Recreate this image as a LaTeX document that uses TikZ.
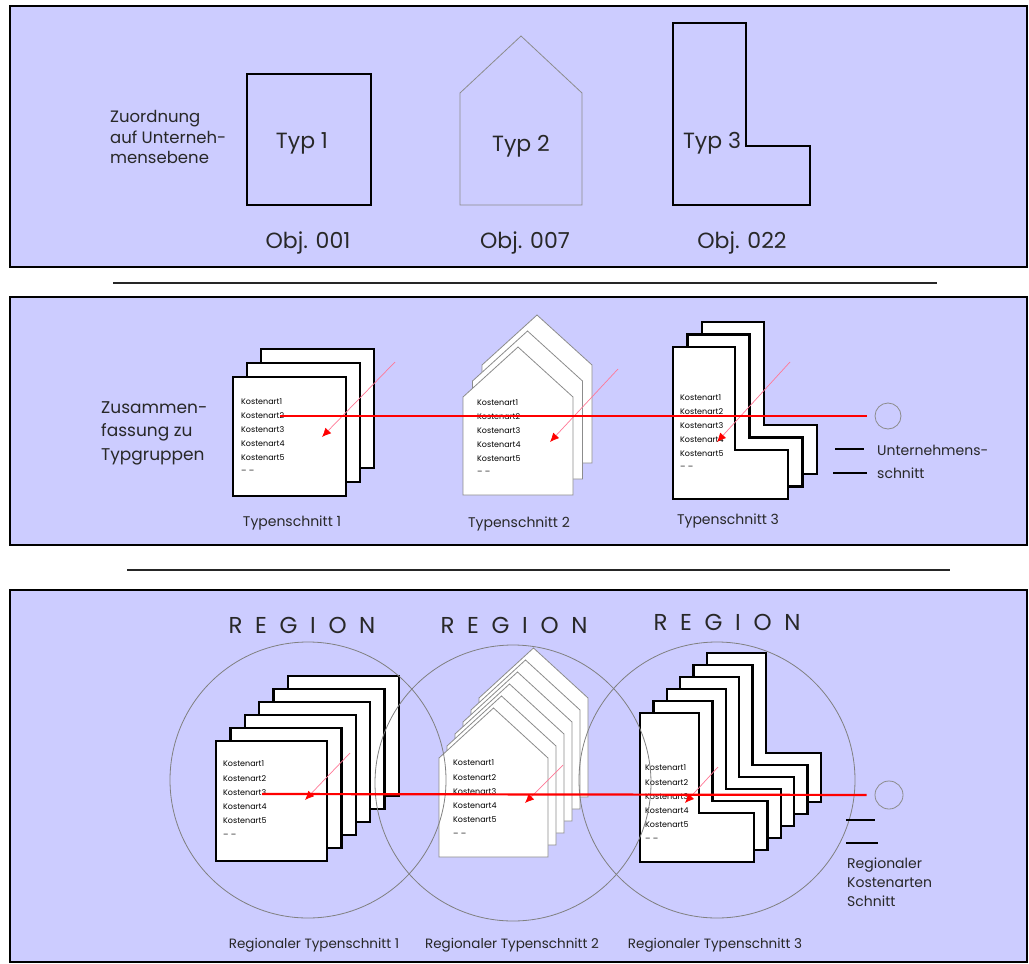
\documentclass[tikz,border=0pt]{standalone}
\usepackage{xcolor}
\usepackage{fontspec}
\setmainfont{Poppins}
\newfontfamily\regfont[LetterSpace=55]{Poppins}
\usetikzlibrary{arrows.meta}
\definecolor{lav}{RGB}{204,204,255}
\definecolor{txt}{RGB}{40,40,40}
\definecolor{pinkl}{RGB}{255,120,150}
\newcommand\myfs[2]{\fontsize{#1}{#2}\selectfont}
\newcommand\pagelines{Kostenart1\\Kostenart2\\Kostenart3\\Kostenart4\\Kostenart5\\-- --}
\begin{document}
\begin{tikzpicture}[x=1pt,y=-1pt,
  panel/.style={draw=black,line width=2pt,fill=lav},
  sepline/.style={line width=2.5pt,draw=black!85},
  pagebox/.style={draw=black,line width=2.3pt,fill=white,line join=miter},
  housebox/.style={draw=black!45,line width=0.8pt,fill=white},
  ptext/.style={font=\myfs{8}{13.8},align=left,anchor=north west,inner sep=0pt,text=black},
  lbl/.style={text=txt,inner sep=0pt},
  redline/.style={draw=red,line width=2.2pt,shorten >=8pt},
  pinkarrow/.style={draw=pinkl,line width=0.7pt,-{Latex[length=9pt,width=8pt,color=red]}},
  ring/.style={circle,draw=black!45,line width=0.8pt,inner sep=0pt},
  regcircle/.style={draw=black!50,line width=0.8pt},
  legline/.style={draw=black,line width=2pt}
]
\useasboundingbox (0,0) rectangle (1029,964);
\fill[white] (0,0) rectangle (1029,964);

% ---------------- panel 1 ----------------
\draw[panel] (10,6) rectangle (1027,267);
\node[lbl,anchor=west,align=left,font=\myfs{16.5}{20.5}] (zuord) at (110,137) {Zuordnung\\auf Unterneh-\\mensebene};
\draw[line width=2.5pt] (247,74) rectangle (371,205);
\draw[draw=black!45,line width=0.8pt] (460,205) -- (460,93) -- (521,36) -- (582,93) -- (582,205) -- cycle;
\draw[line width=2.5pt] (673,23) -- (746,23) -- (746,146) -- (810,146) -- (810,205) -- (673,205) -- cycle;
\node[lbl,font=\myfs{22}{22}] (t1) at (302,143) {Typ 1};
\node[lbl,font=\myfs{22}{22}] (t2) at (521,146) {Typ 2};
\node[lbl,font=\myfs{22}{22}] (t3) at (712,143) {Typ 3};
\node[lbl,font=\myfs{22}{22}] (o1) at (308,243) {Obj. 001};
\node[lbl,font=\myfs{22}{22}] (o2) at (525,243) {Obj. 007};
\node[lbl,font=\myfs{22}{22}] (o3) at (742,243) {Obj. 022};

\draw[sepline] (113,283) -- (937,283);

% ---------------- panel 2 ----------------
\draw[panel] (10,297) rectangle (1027,545);
\node[lbl,anchor=west,align=left,font=\myfs{17}{23.5}] (zus) at (101,433) {Zusammen-\\fassung zu\\Typgruppen};
% stack 1
\foreach \i in {2,1,0} \draw[pagebox] ({233+14*\i},{377-14*\i}) rectangle +(113,119);
\node[ptext] (p21) at (241,399) {\pagelines};
% stack 2
\foreach \i in {2,1,0} \draw[housebox] ({463+9.5*\i},{495-16*\i}) -- ++(0,-98) -- ++(55,-50) -- ++(55,50) -- ++(0,98) -- cycle;
\node[ptext] (p22) at (477,400) {\pagelines};
% stack 3
\foreach \i in {2,1,0} \draw[pagebox] ({673+14.5*\i},{347-12.5*\i}) -- ++(62,0) -- ++(0,103) -- ++(53,0) -- ++(0,49) -- ++(-115,0) -- cycle;
\node[ptext] (p23) at (680,395) {\pagelines};

\coordinate (a1s) at (395,362); \coordinate (a1e) at (322,437);
\coordinate (a2s) at (618,369); \coordinate (a2e) at (550,442);
\coordinate (a3s) at (790,362); \coordinate (a3e) at (717,442);
\draw[pinkarrow] (a1s) -- (a1e);
\draw[pinkarrow] (a2s) -- (a2e);
\draw[pinkarrow] (a3s) -- (a3e);

\coordinate (r2s) at (280,416);
\node[ring,minimum size=26pt] (c2) at (888,416) {};
\draw[redline] (r2s) -- (c2);

\draw[legline] (835,449) -- (864,449);
\draw[legline] (833,473) -- (867,473);
\node[lbl,anchor=west,font=\myfs{14}{14}] (u1) at (877,450) {Unternehmens-};
\node[lbl,anchor=west,font=\myfs{14}{14}] (u2) at (877,473) {schnitt};

\node[lbl,font=\myfs{14}{14}] (ts1) at (292,523) {Typenschnitt 1};
\node[lbl,font=\myfs{14}{14}] (ts2) at (519,524) {Typenschnitt 2};
\node[lbl,font=\myfs{14}{14}] (ts3) at (728,521) {Typenschnitt 3};

\draw[sepline] (127,570) -- (950,570);

% ---------------- panel 3 ----------------
\draw[panel] (10,590) rectangle (1027,962);
\node[lbl,font=\regfont\myfs{23}{23}] (reg1) at (302,625) {REGION};
\node[lbl,font=\regfont\myfs{23}{23}] (reg2) at (514,625) {REGION};
\node[lbl,font=\regfont\myfs{23}{23}] (reg3) at (727,622) {REGION};

% stack 1
\foreach \i in {5,4,3,2,1,0} \draw[pagebox] ({216+14.4*\i},{741-13*\i}) rectangle +(111,120);
\node[ptext,font=\myfs{8}{14.2}] (p31) at (223,761) {\pagelines};
% stack 2
\foreach \i in {5,4,3,2,1,0} \draw[housebox] ({439+8*\i},{857-12*\i}) -- ++(0,-99) -- ++(54.5,-50) -- ++(54.5,50) -- ++(0,99) -- cycle;
\node[ptext,font=\myfs{8}{14.2}] (p32) at (453,760) {\pagelines};
% stack 3
\foreach \i in {5,4,3,2,1,0} \draw[pagebox] ({640+13.4*\i},{713-12*\i}) -- ++(59,0) -- ++(0,100) -- ++(55,0) -- ++(0,49) -- ++(-114,0) -- cycle;
\node[ptext,font=\myfs{8}{14.2}] (p33) at (645,765) {\pagelines};

% region circles
\draw[regcircle] (308,780) circle (138);
\draw[regcircle] (513,783) circle (138);
\draw[regcircle] (717,780) circle (138);

\coordinate (b1s) at (350,753); \coordinate (b1e) at (305,800);
\coordinate (b2s) at (563,765); \coordinate (b2e) at (525,803);
\coordinate (b3s) at (718,767); \coordinate (b3e) at (685,803);
\draw[pinkarrow] (b1s) -- (b1e);
\draw[pinkarrow] (b2s) -- (b2e);
\draw[pinkarrow] (b3s) -- (b3e);

\coordinate (r3s) at (262,794);
\node[ring,minimum size=28pt] (c3) at (889,795) {};
\draw[redline] (r3s) -- (c3);

\draw[legline] (846,820) -- (875,820);
\draw[legline] (846,843) -- (878,843);
\node[lbl,anchor=north west,align=left,font=\myfs{14}{19}] (kost) at (847,858) {Regionaler\\Kostenarten\\Schnitt};

\node[lbl,font=\myfs{13.5}{13.5}] (rt1) at (314,945) {Regionaler Typenschnitt 1};
\node[lbl,font=\myfs{13.5}{13.5}] (rt2) at (512,945) {Regionaler Typenschnitt 2};
\node[lbl,font=\myfs{13.5}{13.5}] (rt3) at (715,945) {Regionaler Typenschnitt 3};
\end{tikzpicture}
\end{document}
